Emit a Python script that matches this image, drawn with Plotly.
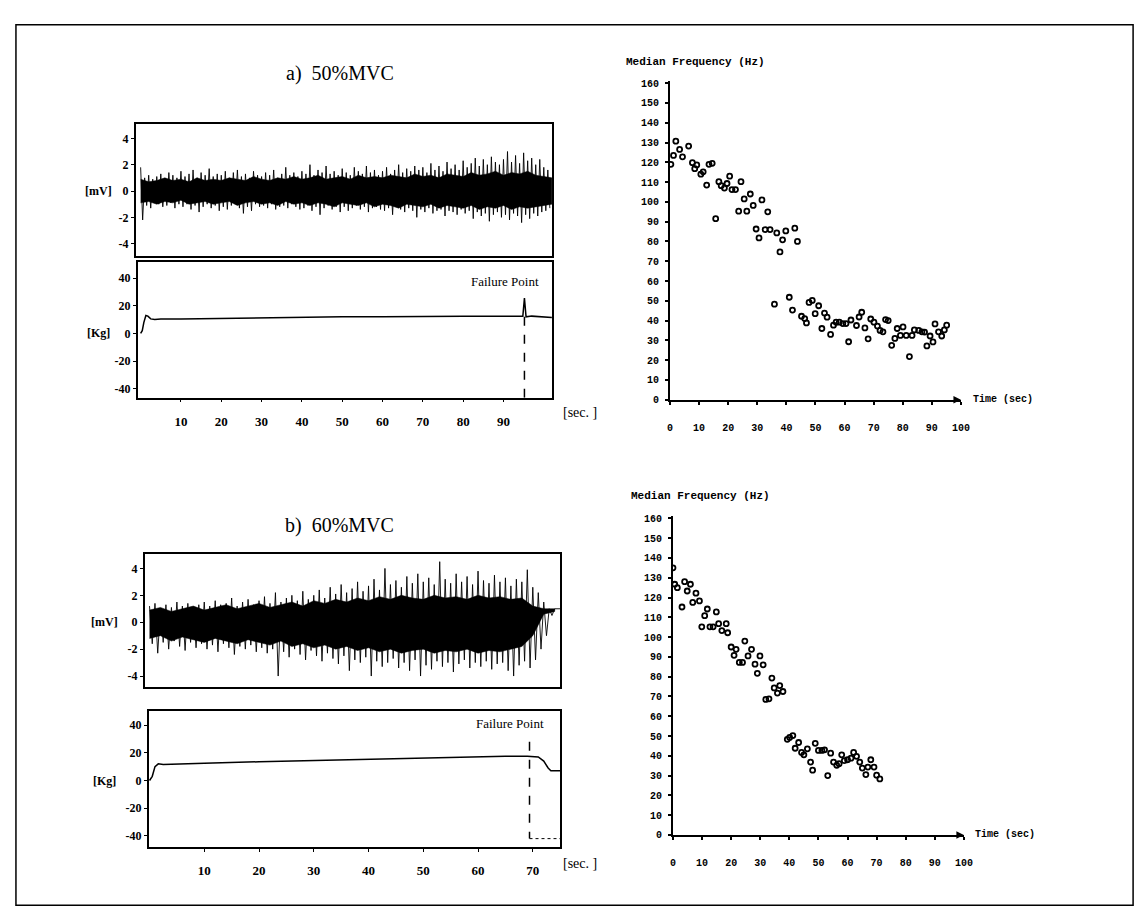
import plotly.graph_objects as go

W, H = 1143, 916

# ---------------- data ----------------
# a) 50%MVC : EMG spike envelope per second (upper / lower extremes, mV)
emg_a_hi = [1.8, 1.0, 1.2, 0.9, 1.1, 1.3, 0.8, 1.4, 1.2, 1.0,
            1.5, 1.1, 1.3, 1.6, 1.0, 1.4, 1.2, 1.7, 1.1, 1.3,
            1.2, 1.5, 1.0, 1.4, 1.6, 1.1, 1.3, 1.0, 1.5, 1.2,
            1.1, 1.4, 1.2, 1.6, 1.0, 1.3, 1.8, 1.2, 1.4, 1.1,
            1.5, 1.3, 2.0, 1.2, 1.6, 1.4, 1.9, 1.3, 1.5, 1.2,
            1.7, 1.4, 1.2, 1.8, 1.5, 1.3, 1.9, 1.4, 1.6, 1.2,
            1.5, 1.8, 1.3, 1.6, 2.0, 1.4, 1.7, 1.5, 1.9, 1.6,
            1.8, 1.4, 2.1, 1.6, 1.9, 1.5, 2.2, 1.7, 2.0, 1.6,
            2.3, 1.8, 2.1, 2.5, 1.9, 2.4, 2.0, 2.6, 2.2, 2.0,
            2.4, 3.0, 2.2, 2.7, 2.1, 2.9, 2.3, 2.5, 2.0, 2.4,
            1.8, 1.6]
emg_a_lo = [-2.2, -1.1, -1.3, -0.9, -1.0, -1.2, -1.1, -0.9, -1.3, -1.0,
            -1.2, -1.0, -1.4, -1.1, -1.6, -1.2, -1.0, -1.3, -1.1, -1.5,
            -1.2, -1.4, -1.1, -1.0, -1.3, -1.7, -1.2, -1.5, -1.0, -1.2,
            -1.1, -1.3, -1.0, -1.4, -1.2, -1.1, -1.3, -1.0, -1.2, -1.4,
            -1.3, -1.1, -1.5, -1.2, -1.8, -1.3, -1.1, -1.4, -1.2, -1.6,
            -1.2, -1.5, -1.3, -1.1, -1.4, -1.2, -1.6, -1.3, -1.2, -1.4,
            -1.5, -1.3, -1.8, -1.2, -1.4, -1.6, -1.3, -1.5, -2.0, -1.4,
            -1.6, -1.3, -1.7, -1.5, -1.4, -1.9, -1.5, -1.6, -1.8, -1.4,
            -1.7, -1.5, -2.1, -1.6, -1.9, -1.7, -2.3, -1.8, -1.6, -2.0,
            -1.8, -2.2, -1.7, -1.9, -2.4, -1.8, -2.1, -1.7, -1.9, -1.6,
            -1.5, -1.3]
# a) dense core of the EMG band (mV), every 2 s
emg_a_core_t = list(range(0, 103, 2))
emg_a_core_hi = [0.9, 0.7, 0.8, 1.0, 0.8, 0.9, 0.7, 1.0, 0.8, 0.9,
                 0.8, 1.0, 0.9, 0.8, 1.1, 0.9, 0.8, 1.0, 0.9, 1.1,
                 0.9, 1.0, 1.2, 0.9, 1.0, 1.1, 0.9, 1.2, 1.0, 1.1,
                 1.0, 1.2, 1.1, 1.0, 1.3, 1.1, 1.2, 1.0, 1.3, 1.2,
                 1.1, 1.4, 1.2, 1.3, 1.5, 1.2, 1.4, 1.3, 1.5, 1.2,
                 1.1, 1.0]
emg_a_core_lo = [-0.9, -0.8, -1.0, -0.8, -0.9, -0.7, -1.0, -0.9, -0.8, -1.0,
                 -0.9, -0.8, -1.1, -0.9, -0.8, -1.0, -0.9, -1.1, -0.8, -1.0,
                 -0.9, -1.1, -0.9, -1.0, -1.2, -0.9, -1.0, -1.1, -0.9, -1.2,
                 -1.0, -1.1, -1.3, -1.0, -1.1, -1.2, -1.0, -1.3, -1.1, -1.2,
                 -1.3, -1.1, -1.4, -1.2, -1.3, -1.1, -1.4, -1.2, -1.3, -1.2,
                 -1.1, -1.0]

# a) force (kg)
force_a_t = [0, 0.4, 0.8, 1.3, 1.8, 2.5, 3.5, 5, 10, 20, 30, 40, 50, 60, 70, 80, 90,
             94.8, 95.2, 95.6, 97, 100, 102]
force_a_kg = [0, 2, 8, 13, 12.5, 10.5, 10, 10.5, 10.5, 11, 11, 11.5, 12, 12, 12.5, 12.5, 12.5,
              12.5, 25.5, 12, 12.5, 12, 11.5]
failure_a = 95.2

# b) 60%MVC : EMG spike envelope per second
emg_b_hi = [1.2, 1.4, 1.0, 1.3, 1.1, 1.5, 1.2, 1.4, 1.0, 1.3,
            1.5, 1.2, 1.6, 1.3, 1.4, 1.8, 1.2, 1.5, 1.7, 1.3,
            1.6, 1.9, 1.4, 2.2, 1.5, 1.8, 2.0, 1.6, 2.3, 1.7,
            2.0, 2.4, 1.8, 2.6, 2.1, 2.8, 2.2, 2.5, 3.0, 2.3,
            2.7, 3.2, 2.4, 4.0, 2.8, 3.1, 2.6, 3.4, 2.9, 3.6,
            3.0, 3.3, 2.8, 4.5, 3.2, 2.9, 3.6, 3.0, 3.4, 2.8,
            3.8, 3.1, 2.9, 3.5, 3.0, 3.3, 2.7, 3.2, 3.0, 3.9,
            2.6, 2.2, 1.5, 1.0, 1.0, 1.0]
emg_b_lo = [-1.6, -2.3, -1.5, -2.0, -1.4, -1.8, -2.1, -1.5, -1.9, -1.6,
            -2.0, -1.7, -2.2, -1.6, -1.9, -2.4, -1.8, -2.0, -1.7, -2.2,
            -1.9, -2.3, -2.0, -4.0, -2.2, -2.6, -2.0, -2.4, -2.8, -2.1,
            -2.5, -2.9, -2.3, -2.7, -3.1, -2.5, -3.6, -2.8, -3.0, -2.6,
            -4.0, -2.9, -3.3, -3.0, -2.7, -3.4, -3.0, -3.6, -2.8, -4.0,
            -3.2, -3.5, -2.9, -3.3, -3.0, -3.7, -3.1, -2.8, -3.4, -3.0,
            -3.3, -2.9, -3.5, -3.1, -3.0, -3.6, -4.0, -3.2, -2.9, -3.4,
            -2.8, -2.0, -1.0, 0.5, 1.0, 1.0]
emg_b_core_t = list(range(0, 75, 2))
emg_b_core_hi = [0.9, 1.1, 0.8, 1.0, 1.2, 0.9, 1.1, 1.3, 1.0, 1.2,
                 1.4, 1.1, 1.3, 1.5, 1.2, 1.6, 1.4, 1.7, 1.5, 1.8,
                 1.6, 1.9, 1.7, 2.0, 1.8, 1.7, 2.0, 1.8, 1.9, 1.7,
                 2.0, 1.8, 1.9, 1.7, 1.8, 1.2, 1.0, 1.0]
emg_b_core_lo = [-1.2, -1.0, -1.4, -1.1, -1.3, -1.5, -1.2, -1.4, -1.6, -1.3,
                 -1.5, -1.7, -1.4, -1.8, -1.6, -1.9, -1.7, -2.0, -1.8, -2.1,
                 -1.9, -2.2, -2.0, -2.3, -2.1, -2.0, -2.3, -2.1, -2.2, -2.0,
                 -2.3, -2.1, -2.2, -2.0, -1.8, -1.0, 0.6, 0.8]

force_b_t = [0, 0.5, 1, 1.6, 2.5, 5, 10, 20, 30, 40, 50, 60, 65, 69, 71, 72, 72.8, 73.3, 75]
force_b_kg = [0, 3, 10, 12, 11.5, 12, 12.5, 13.5, 14.5, 15.5, 16.5, 17, 17.5, 17.5, 17, 14, 9, 7, 7]
failure_b = 69.4

# median frequency (Hz) vs time (sec)
mf_a_t = [0.3, 1.2, 2.0, 3.3, 4.3, 6.4, 7.7, 8.5, 9.2, 10.6, 11.4, 12.6, 13.4, 14.5, 15.7,
          16.8, 17.6, 18.7, 19.6, 20.5, 21.3, 22.5, 23.6, 24.4, 25.5, 26.4, 27.6, 28.6, 29.6,
          30.6, 31.6, 32.7, 33.6, 34.4, 36.7, 37.8, 38.7, 39.8, 42.9, 43.8,
          35.9, 41.0, 42.1, 45.2, 46.3, 46.9, 47.8, 48.9, 49.9, 51.1, 52.2, 53.1, 54.0, 55.2,
          56.2, 57.1, 58.2, 59.4, 60.5, 61.4, 62.2, 64.1, 65.0, 65.9, 67.0, 68.1, 69.0, 70.1,
          71.3, 72.2, 73.2, 74.1, 75.0, 76.2, 77.3, 78.1, 79.2, 80.1, 81.2, 82.3, 83.2, 84.0,
          85.5, 86.6, 87.5, 88.3, 89.4, 90.4, 91.1, 92.3, 93.4, 94.3, 95.1]
mf_a_hz = [119, 123.5, 130.7, 126.5, 122.8, 128.2, 119.8, 116.8, 118.7, 114, 115.2, 108.5, 119, 119.5, 91.5,
           110.2, 108.2, 107, 109.3, 113, 106.2, 106.2, 95.3, 110.2, 101.5, 95.3, 104, 98.2, 86.3,
           81.8, 101, 86, 95, 86, 84.3, 74.7, 80.8, 85.3, 86.7, 80,
           48.3, 51.8, 45.3, 42.2, 41, 38.8, 49.2, 50.2, 43.5, 47.5, 36, 43.8, 41.7, 33,
           37.7, 39.2, 39.2, 38.5, 38.5, 29.3, 40.3, 37.5, 41.8, 44.2, 36.3, 30.8, 40.8, 39.2,
           37.2, 35, 34.3, 40.5, 40, 27.5, 31, 36, 32.5, 36.8, 32.5, 21.8, 32.5, 35.3,
           35, 34.3, 34.2, 27.2, 32.2, 29.2, 38.3, 34.3, 32.2, 35.3, 37.7]

mf_b_t = [0, 0.6, 1.5, 3.1, 4.0, 4.9, 6.0, 6.8, 7.9, 9.1, 9.9, 10.9, 11.8, 12.7, 13.8, 14.9,
          15.7, 16.8, 18.3, 18.8, 20.0, 21.0, 21.7, 22.8, 23.9, 24.7, 25.8, 27.0, 28.2, 29.0,
          29.9, 31.0, 31.9, 33.0, 34.0, 34.8, 35.9, 36.7, 37.8,
          39.3, 40.1, 41.2, 42.0, 43.2, 44.2, 45.0, 46.2, 47.3, 48.0, 48.9, 50.0, 51.2, 52.1,
          53.2, 54.2, 55.2, 56.3, 57.1, 58.0, 58.9, 60.0, 61.2, 62.1, 63.1, 64.2, 65.1, 66.3,
          67.0, 68.0, 69.1, 70.0, 71.1]
mf_b_hz = [135, 126.7, 125, 115.2, 128, 123.3, 126.7, 117.5, 122.2, 118.3, 105.2, 110.8, 114.2, 105.2, 105.2, 112.7,
           106.8, 103.3, 106.8, 102.2, 95, 90.8, 93.8, 87.2, 87.2, 98, 90.5, 93.8, 86.3, 81.7,
           90.5, 86, 68.5, 68.8, 79.3, 74.3, 71.7, 75.5, 72.5,
           48.3, 49.3, 50.2, 43.8, 46.7, 41.7, 40.5, 43.5, 36.8, 32.7, 46.3, 42.7, 42.7, 43,
           30, 41.3, 36.8, 35.2, 36, 40.5, 37.5, 38, 38.8, 41.7, 39.7, 36.8, 33.8, 30.5,
           34.3, 38, 34.3, 30.2, 28.3]

emg_ticks = [4, 2, 0, -2, -4]
emg_ticktext = ["4", "2", "0", "-2", "-4"]
force_ticks = [40, 20, 0, -20, -40]
force_ticktext = ["40", "20", "0", "-20", "-40"]
time_ticks_a = [10, 20, 30, 40, 50, 60, 70, 80, 90]
time_ticks_b = [10, 20, 30, 40, 50, 60, 70]
mf_xticks = [0, 10, 20, 30, 40, 50, 60, 70, 80, 90, 100]
mf_yticks = [0, 10, 20, 30, 40, 50, 60, 70, 80, 90, 100, 110, 120, 130, 140, 150, 160]


# ---------------- helpers ----------------
def dxp(a, b):
    return [a / W, b / W]


def dyp(top, bottom):
    return [1 - bottom / H, 1 - top / H]


def zigzag(hi, lo):
    xs, ys = [], []
    for i, (h, l) in enumerate(zip(hi, lo)):
        xs += [i, i + 0.5]
        ys += [h, l]
    return xs, ys


SERIF = "Liberation Serif"
MONO = "Liberation Mono"
tick_serif = dict(family=SERIF, size=12, color="black", weight="bold")
tick_mono = dict(family=MONO, size=10, color="black", weight="bold")

fig = go.Figure()


def add_emg(core_t, core_hi, core_lo, hi, lo, xa, ya):
    # dense core band of the raw EMG
    fig.add_trace(go.Scatter(x=core_t + core_t[::-1], y=core_hi + core_lo[::-1], mode="lines",
                             fill="toself", fillcolor="black", line=dict(color="black", width=0.5),
                             xaxis=xa, yaxis=ya))
    # individual spikes
    zx, zy = zigzag(hi, lo)
    fig.add_trace(go.Scatter(x=zx, y=zy, mode="lines", line=dict(color="black", width=0.9),
                             xaxis=xa, yaxis=ya))


add_emg(emg_a_core_t, emg_a_core_hi, emg_a_core_lo, emg_a_hi, emg_a_lo, "x", "y")
fig.add_trace(go.Scatter(x=force_a_t, y=force_a_kg, mode="lines", line=dict(color="black", width=1.5),
                         xaxis="x2", yaxis="y2"))
add_emg(emg_b_core_t, emg_b_core_hi, emg_b_core_lo, emg_b_hi, emg_b_lo, "x3", "y3")
fig.add_trace(go.Scatter(x=force_b_t, y=force_b_kg, mode="lines", line=dict(color="black", width=1.5),
                         xaxis="x4", yaxis="y4"))

mk = dict(symbol="circle-open", size=5, color="black", line=dict(color="black", width=1.8))
fig.add_trace(go.Scatter(x=mf_a_t, y=mf_a_hz, mode="markers", marker=mk, xaxis="x5", yaxis="y5"))
fig.add_trace(go.Scatter(x=mf_b_t, y=mf_b_hz, mode="markers", marker=mk, xaxis="x6", yaxis="y6"))

# failure point lines
fig.add_trace(go.Scatter(x=[failure_a, failure_a], y=[12, -47], mode="lines",
                         line=dict(color="black", width=1.5, dash="dash"), xaxis="x2", yaxis="y2"))
fig.add_trace(go.Scatter(x=[failure_b, failure_b], y=[28, -42], mode="lines",
                         line=dict(color="black", width=1.5, dash="dash"), xaxis="x4", yaxis="y4"))
fig.add_trace(go.Scatter(x=[failure_b, 75], y=[-42, -42], mode="lines",
                         line=dict(color="black", width=1, dash="dot"), xaxis="x4", yaxis="y4"))


def box_axis(domain, rng, **kw):
    d = dict(domain=domain, range=rng, showline=True, linecolor="black", linewidth=1.5,
             mirror=True, showgrid=False, zeroline=False, tickcolor="black",
             tickfont=tick_serif, fixedrange=True)
    d.update(kw)
    return d


def mf_axis(domain, rng, **kw):
    d = dict(domain=domain, range=rng, showline=True, linecolor="black", linewidth=2,
             mirror=False, showgrid=False, zeroline=False, tickcolor="black",
             ticks="outside", ticklen=3, tickwidth=1.5, tickfont=tick_mono)
    d.update(kw)
    return d


layout = dict(
    width=W, height=H, margin=dict(l=0, r=0, t=0, b=0),
    paper_bgcolor="white", plot_bgcolor="white", showlegend=False,
    # a) EMG
    xaxis=box_axis(dxp(126, 547), [-1.23, 102.1], ticks="", showticklabels=False, anchor="y"),
    yaxis=box_axis(dyp(114, 248), [-4.96, 5.11], ticks="outside", ticklen=3,
                   tickvals=emg_ticks, ticktext=emg_ticktext, anchor="x"),
    # a) force
    xaxis2=box_axis(dxp(128, 547), [-0.74, 102.1], ticks="outside", ticklen=3,
                    tickvals=time_ticks_a, ticklabelstandoff=8, anchor="y2",
                    tickfont=dict(family=SERIF, size=13, color="black", weight="bold")),
    yaxis2=box_axis(dyp(254, 391), [-46.4, 51.4], ticks="outside", ticklen=3,
                    tickvals=force_ticks, ticktext=force_ticktext, anchor="x2"),
    # b) EMG
    xaxis3=box_axis(dxp(135, 555), [-0.9, 75.0], ticks="", showticklabels=False, anchor="y3"),
    yaxis3=box_axis(dyp(549, 683), [-4.78, 5.07], ticks="outside", ticklen=3,
                    tickvals=emg_ticks, ticktext=emg_ticktext, anchor="x3"),
    # b) force
    xaxis4=box_axis(dxp(139, 555), [-0.18, 75.0], ticks="outside", ticklen=3,
                    tickvals=time_ticks_b, ticklabelstandoff=8, anchor="y4",
                    tickfont=dict(family=SERIF, size=13, color="black", weight="bold")),
    yaxis4=box_axis(dyp(708, 845), [-47.9, 50], ticks="outside", ticklen=3,
                    tickvals=force_ticks, ticktext=force_ticktext, anchor="x4"),
    # a) median frequency
    xaxis5=mf_axis(dxp(666, 960), [0, 100], tickvals=mf_xticks, ticklabelstandoff=14, anchor="y5"),
    yaxis5=mf_axis(dyp(71, 393), [0, 161], tickvals=mf_yticks, ticklabelstandoff=4, anchor="x5"),
    # b) median frequency
    xaxis6=mf_axis(dxp(669, 963), [0, 100], tickvals=mf_xticks, ticklabelstandoff=14, anchor="y6"),
    yaxis6=mf_axis(dyp(511, 833), [0, 161], tickvals=mf_yticks, ticklabelstandoff=4, anchor="x6"),
)
fig.update_layout(**layout)

ann = []


def txt(x, y, s, size, family, xanchor="center", weight="normal", yanchor="middle"):
    ann.append(dict(x=x / W, y=1 - y / H, xref="paper", yref="paper", text=s, showarrow=False,
                    xanchor=xanchor, yanchor=yanchor,
                    font=dict(family=family, size=size, color="black", weight=weight)))


txt(332, 63, "a)  50%MVC", 20, SERIF)
txt(332, 520, "b)  60%MVC", 20, SERIF)
txt(104, 182, "[mV]", 12, SERIF, xanchor="right", weight="bold")
txt(102, 326, "[Kg]", 12, SERIF, xanchor="right", weight="bold")
txt(110, 618, "[mV]", 12, SERIF, xanchor="right", weight="bold")
txt(108, 778, "[Kg]", 12, SERIF, xanchor="right", weight="bold")
txt(499, 273, "Failure Point", 13, SERIF)
txt(504, 720, "Failure Point", 13, SERIF)
txt(575, 406, "[sec. ]", 14, SERIF)
txt(575, 862, "[sec. ]", 14, SERIF)
txt(620, 52, "Median Frequency (Hz)", 11, MONO, xanchor="left", weight="bold")
txt(625, 490, "Median Frequency (Hz)", 11, MONO, xanchor="left", weight="bold")
txt(970, 393, "Time (sec)", 10, MONO, xanchor="left", weight="bold")
txt(972, 833, "Time (sec)", 10, MONO, xanchor="left", weight="bold")

# axis arrows on the median frequency plots
for xr, yr in (("x5", "y5"), ("x6", "y6")):
    ann.append(dict(x=100, y=0, xref=xr, yref=yr, ax=-8, ay=0, text="", showarrow=True,
                    arrowhead=2, arrowsize=1, arrowwidth=1.5, arrowcolor="black"))

fig.update_layout(annotations=ann)

# outer frame
fig.add_shape(type="rect", xref="paper", yref="paper",
              x0=5 / W, x1=1134 / W, y0=1 - 904 / H, y1=1 - 14 / H,
              line=dict(color="black", width=1.5))

fig.write_html("out.html")
